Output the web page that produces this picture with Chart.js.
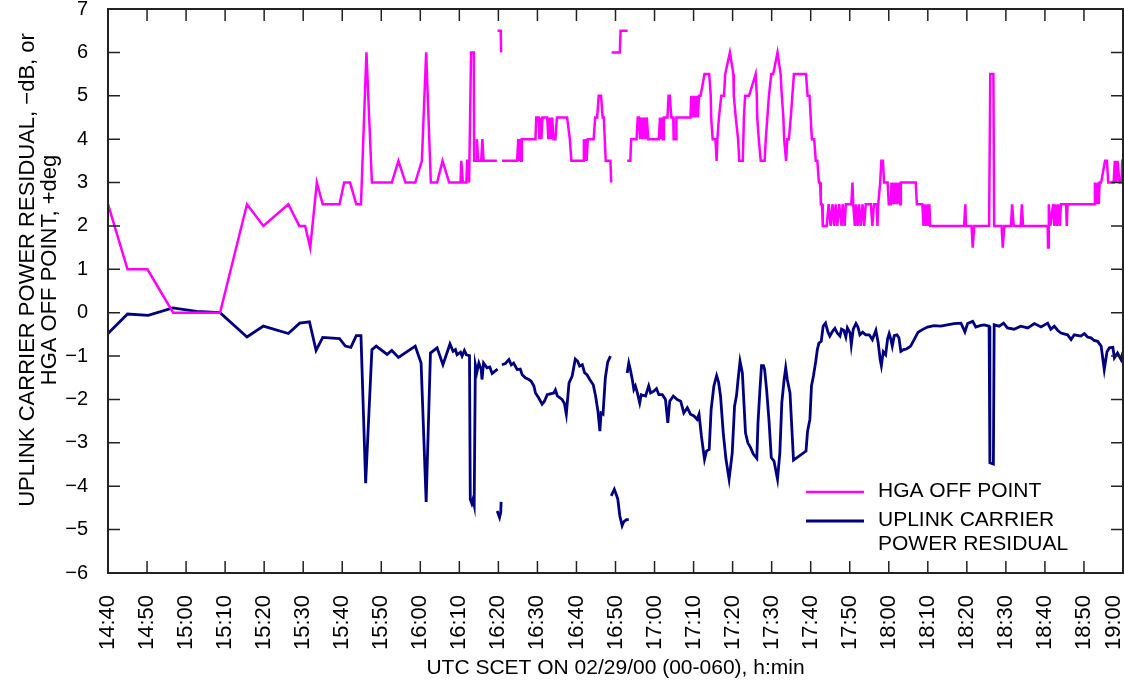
<!DOCTYPE html>
<html>
<head>
<meta charset="utf-8">
<script src="https://cdn.jsdelivr.net/npm/chart.js@4/dist/chart.umd.min.js"></script>
<style>
  html, body { margin: 0; padding: 0; background: #ffffff; }
  canvas { display: block; }
</style>
</head>
<body>
<canvas id="chart" width="1124" height="686"></canvas>
<script>
// Time in UTC minutes of day (14:40 = 880, 19:00 = 1140); null values break the trace.
const hgaTime = [
  880, 885, 890.1, 896.7, 908.7, 915.6, 919.8, 926.2, 929, 930.5, 931.8, 933.5, 935, 939.3, 940.5, 942,
  943.6, 944.8, 946.2, 947.6, 952.7, 954.4, 956.2, 958.7, 960.4, 961.5, 962.7, 964.3, 965.7, 967.4, 970.3,
  970.5, 970.9, 971.8, 972.0, 972.3, 972.5, 973.0, 973.7, 973.8, 974.3, 974.5, 974.8, 975.6, 975.9, 976.2,
  979.6, 979.7, 979.8, 980.6, 980.7, 980.8,
  980.9, 984.8, 985.1, 985.3, 985.6, 985.8, 986.0, 989.5, 989.7, 990.3, 990.5, 990.8, 991.0, 991.3, 992.5,
  992.8, 993.1, 993.4, 993.8, 994.1, 994.6, 995.0, 997.6, 998.3, 998.7, 1001.7, 1001.9, 1002.1, 1002.4,
  1002.6, 1002.9, 1004.4, 1004.8, 1005.3, 1005.7, 1006.3, 1006.7, 1007.0, 1007.5, 1008.7, 1008.9, 1008.9,
  1009.0, 1011.1, 1011.3, 1013.1, 1013.1,
  1013.0, 1013.8, 1014.0, 1015.4, 1015.7, 1016.0, 1016.3, 1016.6, 1017.0, 1017.3, 1017.7, 1018.0, 1018.4,
  1021.1, 1021.4, 1021.7, 1022.1, 1022.2, 1022.4, 1023.3, 1023.6, 1023.9, 1024.3, 1024.8, 1024.9, 1025.5,
  1025.6, 1029.2, 1029.4, 1029.7, 1030.1, 1030.4, 1030.8, 1031.1, 1031.4, 1031.8, 1032.8, 1034.0, 1034.4,
  1034.5, 1034.9, 1035.6, 1035.9, 1036.1, 1036.5, 1037.1, 1037.8, 1038.1, 1039.3, 1040.2, 1040.3, 1040.8,
  1041.4, 1041.7, 1042.6, 1042.9, 1043.2, 1044.2, 1045.9, 1046.2, 1046.3, 1046.7, 1047.2, 1048.2, 1048.5,
  1048.9, 1049.3, 1049.9, 1050.4, 1051.5, 1052.3, 1052.6, 1053.0, 1053.2, 1053.7, 1054.0, 1054.4, 1054.9,
  1055.3, 1055.7, 1058.8, 1059.2, 1059.7, 1060.0, 1060.3, 1060.9, 1061.3, 1061.7, 1062.1, 1062.4, 1062.6,
  1062.9, 1063.1, 1064.1, 1064.6, 1065.1, 1065.6, 1066.0, 1066.4, 1066.8, 1067.3, 1067.9, 1068.2, 1068.7,
  1069.0, 1070.4, 1070.7, 1070.9, 1071.3, 1071.6, 1072.0, 1072.4, 1072.8, 1073.3, 1073.7, 1074.1, 1075.4,
  1075.8, 1076.2, 1076.9, 1077.1, 1077.3, 1077.8, 1078.1, 1078.5, 1078.8, 1079.7, 1080.0, 1080.5, 1080.7,
  1080.9, 1081.2, 1081.5, 1081.9, 1082.2, 1082.6, 1082.9, 1083.1, 1086.9, 1087.2, 1088.6, 1088.9, 1089.2,
  1089.6, 1089.9, 1090.3, 1090.4, 1090.6, 1099.3, 1099.6, 1099.8, 1101.2, 1101.5, 1101.9, 1105.7, 1106.0,
  1106.8, 1107.0, 1108.9, 1109.2, 1109.6, 1111.3, 1111.6, 1112.0, 1113.8, 1114.1, 1114.4, 1120.7, 1120.8,
  1121.0, 1121.4, 1122.1, 1122.4, 1122.7, 1123.1, 1123.4, 1123.8, 1124.1, 1125.4, 1125.6, 1125.8, 1132.6,
  1132.8, 1133.2, 1133.5, 1133.8, 1134.0, 1134.4, 1135.4, 1135.9, 1136.2, 1137.6, 1137.9, 1138.3, 1138.6,
  1139.1, 1139.6, 1139.8, 1140
];
const hgaValue = [
  2.5, 1.0, 1.0, 0, 0, 2.5, 2.0, 2.5, 2.0, 2.0, 1.5, 3.0, 2.5, 2.5, 3.0, 3.0,
  2.5, 2.5, 6.0, 3.0, 3.0, 3.5, 3.0, 3.0, 3.5, 6.0, 3.0, 3.0, 3.5, 3.0, 3.0,
  3.5, 3.0, 3.0, 3.5, 3.5, 3.0, 6.0, 6.0, 3.5, 3.5, 4.0, 3.5, 3.5, 4.0, 3.5,
  3.5, null, 6.5, 6.5, 6.0, null,
  3.5, 3.5, 4.0, 3.5, 4.0, 3.5, 4.0, 4.0, 4.5, 4.5, 4.0, 4.5, 4.0, 4.5, 4.5,
  4.0, 4.5, 4.0, 4.5, 4.0, 4.0, 4.5, 4.5, 4.0, 3.5, 3.5, 4.0, 3.5, 4.0,
  3.5, 4.0, 4.0, 4.5, 4.5, 5.0, 5.0, 4.5, 4.5, 3.5, 3.5, 3.0, null,
  6.0, 6.0, 6.5, 6.5, null,
  3.5, 3.5, 4.0, 4.0, 4.5, 4.5, 4.0, 4.5, 4.0, 4.5, 4.0, 4.5, 4.0,
  4.0, 4.5, 4.0, 4.5, 4.0, 4.5, 4.5, 5.0, 5.0, 4.5, 4.5, 4.0, 4.0,
  4.5, 4.5, 5.0, 4.5, 5.0, 4.5, 5.0, 4.5, 5.0, 5.0, 5.5, 5.5, 5.0,
  4.5, 4.0, 4.0, 3.5, 4.0, 4.5, 5.0, 5.0, 5.5, 6.0, 5.5, 5.0, 4.5,
  4.0, 3.5, 3.5, 4.5, 5.0, 5.0, 5.5, 5.0, 4.5, 4.0, 3.5, 3.5, 4.0,
  4.5, 5.0, 5.5, 5.5, 6.0, 5.5, 5.0, 4.5, 4.0, 3.5, 4.0, 4.0, 4.5,
  5.0, 5.5, 5.5, 5.0, 5.0, 4.5, 4.0, 4.0, 3.5, 3.5, 3.0, 3.0, 2.5,
  2.5, 2.0, 2.0, 2.5, 2.0, 2.5, 2.0, 2.5, 2.0, 2.5, 2.0, 2.5, 2.0,
  2.5, 2.5, 3.0, 2.5, 2.0, 2.5, 2.0, 2.5, 2.0, 2.5, 2.0, 2.5, 2.5,
  2.0, 2.5, 2.5, 2.0, 2.5, 3.0, 3.5, 3.5, 3.0, 3.0, 2.5, 2.5, 3.0,
  2.5, 3.0, 2.5, 3.0, 2.5, 3.0, 2.5, 3.0, 3.0, 2.5, 2.5, 2.0, 2.5,
  2.0, 2.5, 2.0, 2.5, 2.0, 2.0, 2.5, 2.0, 2.0, 1.5, 2.0, 2.0, 5.5,
  5.5, 2.0, 2.0, 1.5, 2.0, 2.0, 2.5, 2.0, 2.0, 2.5, 2.0, 2.0, 1.5,
  2.5, 2.0, 2.5, 2.0, 2.5, 2.0, 2.5, 2.0, 2.5, 2.5, 2.0, 2.5, 2.5,
  3.0, 2.5, 3.0, 2.5, 3.0, 3.0, 3.5, 3.5, 3.0, 3.0, 3.5, 3.0, 3.5,
  3.0, 3.0, 3.5, 3.5
];

const ulTime = [
  880, 885.0, 890.3, 896.6, 902.7, 908.7, 915.6, 919.8, 926.2, 929.1, 931.6, 933.3, 935.0, 939.3, 940.8,
  942.2, 943.6, 944.8, 946.0, 947.6, 948.7, 951.5, 952.7, 954.4, 958.7, 960.2, 961.5, 962.6, 964.3, 965.8,
  967.6, 968.4, 969.0, 969.4, 970.3, 970.7, 971.3, 971.8, 972.6, 972.8, 973.2, 973.5, 973.8, 974.1, 974.5,
  975.0, 975.6, 975.8, 976.2, 977.1, 977.8, 978.4, 979.8, 979.8,
  979.7, 980.3, 980.6, 980.7, 980.7,
  980.9, 981.8, 982.7, 983.3, 983.9, 984.8, 985.6, 986.1, 986.9, 987.8, 988.4, 989.1, 989.5, 990.3, 991.2,
  991.8, 992.5, 994.2, 994.6, 995.1, 996.3, 996.9, 997.4, 998.1, 998.9, 999.7, 1000.3, 1000.8, 1001.5,
  1002.1, 1002.7, 1003.4, 1004.3, 1004.9, 1005.5, 1006.0, 1006.3, 1006.8, 1007.4, 1008.0, 1008.7, 1008.7,
  1008.9, 1009.7, 1010.3, 1010.6, 1011.1, 1011.7, 1012.1, 1012.8, 1013.4, 1013.4,
  1013.0, 1013.4, 1013.8, 1014.3, 1014.7, 1015.1, 1015.6, 1016.2, 1016.6, 1017.7, 1018.5, 1019.0, 1019.8,
  1020.5, 1021.1, 1022.0, 1022.8, 1023.4, 1023.9, 1024.8, 1025.8, 1026.7, 1027.5, 1028.4, 1029.2, 1030.1,
  1030.9, 1031.4, 1032.0, 1032.8, 1033.3, 1034.0, 1034.5, 1035.2, 1035.9, 1036.4, 1036.9, 1037.6, 1038.3,
  1039.1, 1039.9, 1040.5, 1041.0, 1041.4, 1041.9, 1042.5, 1042.9, 1043.3, 1043.9, 1044.6, 1045.3, 1046.2,
  1046.5, 1047.0, 1047.4, 1047.9, 1048.2, 1048.7, 1049.3, 1049.9, 1050.6, 1051.5, 1052.1, 1052.6, 1053.2,
  1053.6, 1054.0, 1054.7, 1055.1, 1055.6, 1058.8, 1059.2, 1059.8, 1060.2, 1060.7, 1061.3, 1061.7, 1062.1,
  1062.7, 1063.2, 1063.8, 1064.4, 1064.9, 1065.6, 1066.2, 1066.8, 1067.5, 1067.9, 1068.5, 1069.0, 1069.4,
  1070.1, 1070.4, 1070.9, 1071.6, 1072.1, 1072.6, 1073.3, 1074.1, 1075.0, 1075.8, 1076.7, 1077.3, 1077.8,
  1078.1, 1078.6, 1079.2, 1079.7, 1080.1, 1080.5, 1080.9, 1081.4, 1082.1, 1082.6, 1083.1, 1083.8, 1084.4,
  1085.0, 1085.6, 1086.5, 1087.5, 1088.6, 1089.9, 1091.6, 1093.3, 1095.0, 1096.7, 1098.5, 1099.5, 1100.2,
  1101.5, 1102.3, 1103.4, 1104.4, 1105.7, 1105.9, 1106.8, 1107.0, 1108.3, 1109.4, 1110.4, 1112.1, 1113.8,
  1115.6, 1117.3, 1119.0, 1120.7, 1121.5, 1122.4, 1123.3, 1124.1, 1125.8, 1126.7, 1127.5, 1129.2, 1130.1,
  1130.9, 1131.8, 1132.6, 1133.5, 1134.4, 1135.2, 1135.9, 1136.5, 1137.4, 1137.8, 1138.6, 1139.5, 1140.0
];
const ulValue = [
  -0.48, -0.03, -0.06, 0.11, 0.03, 0.0, -0.56, -0.31, -0.48, -0.24, -0.21, -0.87, -0.57, -0.6, -0.77,
  -0.8, -0.53, -0.53, -3.93, -0.85, -0.77, -0.96, -0.87, -1.03, -0.77, -1.16, -4.36, -0.93, -0.81, -1.2,
  -0.72, -0.89, -0.85, -0.97, -0.91, -1.0, -0.87, -0.97, -0.99, -4.30, -4.4, -4.3, -4.43, -1.2, -1.37,
  -1.16, -1.31, -1.54, -1.16, -1.27, -1.25, -1.4, -1.3, null,
  -4.57, -4.72, -4.6, -4.36, null,
  -1.2, -1.17, -1.08, -1.2, -1.16, -1.31, -1.3, -1.43, -1.5, -1.54, -1.58, -1.69, -1.85, -1.96, -2.11,
  -2.04, -1.89, -1.85, -1.78, -1.92, -2.0, -2.09, -2.34, -1.62, -1.46, -1.07, -1.12, -1.23, -1.2,
  -1.39, -1.43, -1.54, -1.66, -1.92, -2.27, -2.73, -2.31, -2.34, -1.5, -1.14, -1.0, null,
  -4.22, -4.07, -4.22, -4.3, -4.68, -4.91, -4.82, -4.77, -4.77, null,
  -1.39, -1.16, -1.31, -1.54, -1.77, -1.69, -1.85, -2.08, -1.89, -1.92, -1.69, -1.85, -1.81,
  -1.75, -1.89, -1.89, -2.0, -2.54, -2.04, -1.92, -2.0, -2.04, -2.31, -2.19, -2.34, -2.38,
  -2.46, -2.34, -2.84, -3.38, -3.19, -3.15, -2.23, -1.69, -1.45, -1.6, -1.92, -2.77, -3.38,
  -3.84, -3.23, -2.15, -1.91, -1.54, -1.12, -1.39, -2.08, -2.77, -3.0, -3.11, -3.26, -3.36,
  -2.54, -1.77, -1.22, -1.22, -1.31, -1.77, -2.46, -3.34, -3.42, -3.84, -3.23, -2.08, -1.54,
  -1.27, -1.54, -1.85, -2.54, -3.4, -3.19, -2.73, -2.46, -1.69, -1.46, -1.12, -0.85, -0.7,
  -0.66, -0.31, -0.24, -0.44, -0.54, -0.43, -0.36, -0.47, -0.54, -0.38, -0.41, -0.56, -0.35,
  -0.47, -0.74, -0.38, -0.25, -0.33, -0.51, -0.45, -0.51, -0.51, -0.62, -0.41, -0.7, -1.08,
  -1.22, -0.9, -0.97, -0.6, -0.48, -0.6, -0.77, -0.53, -0.51, -0.58, -0.89, -0.85, -0.84,
  -0.81, -0.77, -0.62, -0.45, -0.39, -0.33, -0.3, -0.31, -0.28, -0.25, -0.24, -0.44, -0.25,
  -0.2, -0.33, -0.3, -0.28, -0.31, -3.46, -3.49, -0.28, -0.31, -0.24, -0.35, -0.38, -0.31,
  -0.35, -0.25, -0.33, -0.24, -0.38, -0.31, -0.41, -0.47, -0.51, -0.62, -0.51, -0.54, -0.48,
  -0.56, -0.58, -0.64, -0.66, -0.77, -1.31, -0.9, -0.81, -0.8, -1.04, -0.93, -1.08, -0.9
];

const xTicksStep = 10;
const yTicksStep = 1;
const xTitle = 'UTC SCET ON 02/29/00 (00-060), h:min';
const yTitle = ['UPLINK CARRIER POWER RESIDUAL, \u2212dB, or', 'HGA OFF POINT, +deg'];
const seriesNames = ['HGA OFF POINT', 'UPLINK CARRIER POWER RESIDUAL'];
const legendLines = [['HGA OFF POINT'], ['UPLINK CARRIER', 'POWER RESIDUAL']];

const FONT = "'Liberation Sans', Arial, Helvetica, sans-serif";
const INK = '#222222';

function toPoints(times, values) {
  return times.map((t, i) => ({ x: t, y: values[i] }));
}
function hmm(v) {
  const h = Math.floor(v / 60);
  const m = Math.round(v - h * 60);
  return h + ':' + String(m).padStart(2, '0');
}

// Keep the last rotated time label inside the canvas.
const lastLabelPlugin = {
  id: 'lastLabel',
  beforeDraw(chart) {
    const items = chart.scales.x.getLabelItems();
    const last = items[items.length - 1];
    if (last && last.options && last.options.translation) {
      last.options.translation[0] -= 9;
    }
  }
};

// Plot frame with inward tick marks on all four sides.
const framePlugin = {
  id: 'frame',
  afterDraw(chart) {
    const { ctx, chartArea: a, scales: { x, y } } = chart;
    const len = 12;
    ctx.save();
    ctx.strokeStyle = INK;
    ctx.lineWidth = 1.5;
    ctx.beginPath();
    x.ticks.forEach(t => {
      const px = x.getPixelForValue(t.value);
      ctx.moveTo(px, a.bottom); ctx.lineTo(px, a.bottom - len);
      ctx.moveTo(px, a.top); ctx.lineTo(px, a.top + len);
    });
    y.ticks.forEach(t => {
      const py = y.getPixelForValue(t.value);
      ctx.moveTo(a.left, py); ctx.lineTo(a.left + len, py);
      ctx.moveTo(a.right, py); ctx.lineTo(a.right - len, py);
    });
    ctx.stroke();
    ctx.lineWidth = 2;
    ctx.strokeRect(a.left, a.top, a.right - a.left, a.bottom - a.top);
    ctx.restore();
  }
};

// Axis titles and the in-plot key.
const textPlugin = {
  id: 'texts',
  afterDraw(chart) {
    const { ctx, chartArea: a } = chart;
    ctx.save();
    ctx.fillStyle = '#000';
    ctx.textBaseline = 'middle';

    ctx.font = '21px ' + FONT;
    ctx.textAlign = 'center';
    ctx.fillText(xTitle, (a.left + a.right) / 2, 668);

    ctx.save();
    ctx.translate(0, 270);
    ctx.rotate(-Math.PI / 2);
    ctx.font = '22px ' + FONT;
    ctx.fillText(yTitle[0], 0, 28);
    ctx.fillText(yTitle[1], 0, 50);
    ctx.restore();

    ctx.textAlign = 'left';
    ctx.font = '21px ' + FONT;
    const rows = [{ y: 492, lines: legendLines[0] }, { y: 521, lines: legendLines[1] }];
    rows.forEach((r, i) => {
      const ds = chart.data.datasets[i];
      ctx.strokeStyle = ds.borderColor;
      ctx.lineWidth = ds.borderWidth;
      ctx.beginPath();
      ctx.moveTo(806, r.y); ctx.lineTo(864, r.y);
      ctx.stroke();
      r.lines.forEach((s, j) => ctx.fillText(s, 878, r.y - 1 + j * 24));
    });
    ctx.restore();
  }
};

new Chart(document.getElementById('chart'), {
  type: 'line',
  data: {
    datasets: [
      { label: seriesNames[0], data: toPoints(hgaTime, hgaValue), borderColor: '#ff00ff', borderWidth: 2.5, spanGaps: false },
      { label: seriesNames[1], data: toPoints(ulTime, ulValue), borderColor: '#000080', borderWidth: 2.8, spanGaps: false }
    ]
  },
  options: {
    responsive: false,
    animation: false,
    devicePixelRatio: 1,
    layout: { padding: { top: 9, right: 1, left: 0, bottom: 0 } },
    elements: { point: { radius: 0 }, line: { tension: 0, fill: false } },
    plugins: { legend: { display: false }, tooltip: { enabled: false } },
    scales: {
      x: {
        type: 'linear', min: 880, max: 1140,
        grid: { display: false }, border: { display: false },
        ticks: {
          stepSize: xTicksStep, autoSkip: false, maxRotation: 90, minRotation: 90,
          padding: 14, color: '#000', font: { family: FONT, size: 22 },
          callback: v => hmm(v)
        },
        afterFit(s) { s.height = 113; s.paddingLeft = 0; s.paddingRight = 0; }
      },
      y: {
        min: -6, max: 7,
        grid: { display: false }, border: { display: false },
        ticks: {
          stepSize: yTicksStep, padding: 12, color: '#000', font: { family: FONT, size: 20 },
          callback: v => (v < 0 ? '\u2212' + Math.abs(v) : String(v))
        },
        afterFit(s) { s.width = 108; s.paddingTop = 0; s.paddingBottom = 0; }
      }
    }
  },
  plugins: [lastLabelPlugin, framePlugin, textPlugin]
});
</script>
</body>
</html>
